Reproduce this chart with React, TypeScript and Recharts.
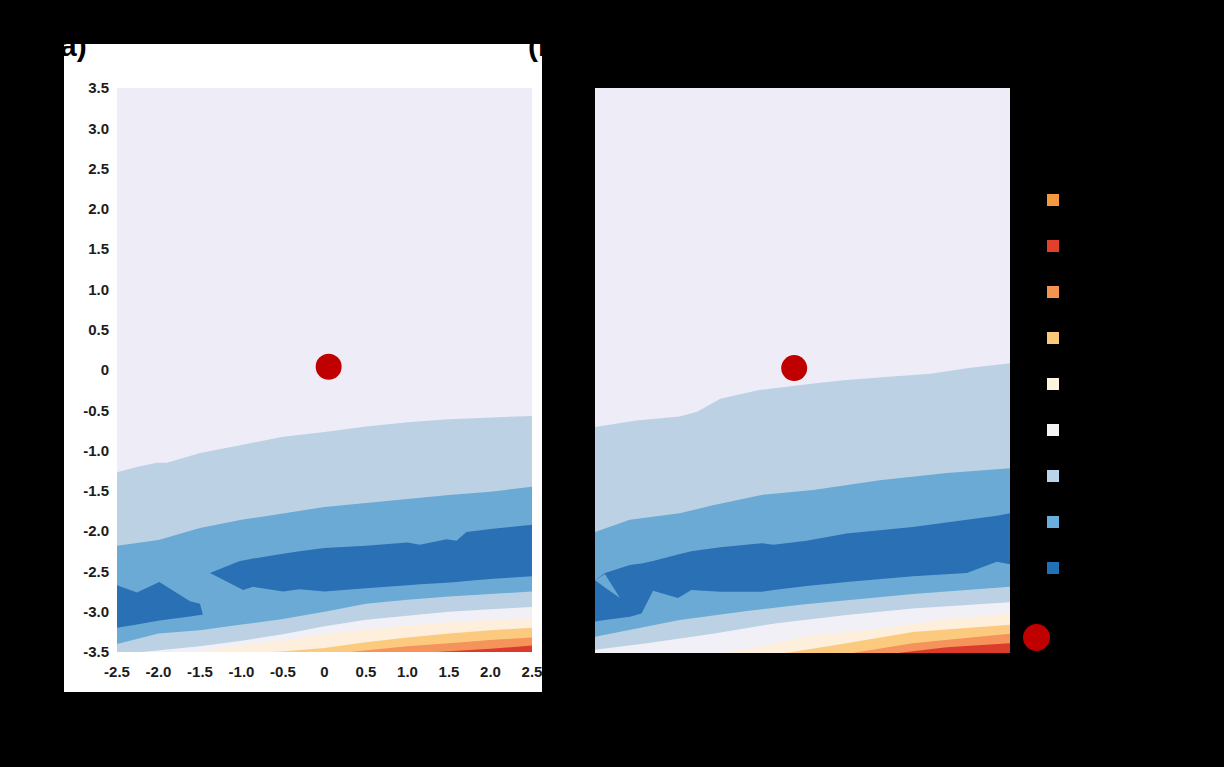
import React from "react";
import { ComposedChart, Area, Scatter, XAxis, YAxis } from "recharts";

type Pt = { x: number; y: number };
type Rng = { x: number; lo: number; hi: number };

const xTicks = [-2.5, -2.0, -1.5, -1.0, -0.5, 0, 0.5, 1.0, 1.5, 2.0, 2.5];
const yTicks = [3.5, 3.0, 2.5, 2.0, 1.5, 1.0, 0.5, 0, -0.5, -1.0, -1.5, -2.0, -2.5, -3.0, -3.5];

const colors = {
  lavender: "#eeedf7",
  light: "#bcd2e4",
  mid: "#6aaad5",
  dark: "#2a70b5",
  pale: "#f1f0f7",
  cream: "#fdefdc",
  lightOrange: "#fbca7f",
  orange: "#f4935a",
  red: "#dc3a2a",
};

const legendColors = ["#f5983f", "#e0402c", "#f4934f", "#fbc979", "#fdf3de", "#f4f4f6", "#b9d4ea", "#6aaedd", "#2171b5"];

const fullPlot: Pt[] = [{ x: -2.5, y: 3.5 }, { x: 2.5, y: 3.5 }];

// panel (a)
const aTop: Pt[] = [
  { x: -2.5, y: -1.27 }, { x: -2.25, y: -1.2 }, { x: -2.02, y: -1.15 }, { x: -1.9, y: -1.15 },
  { x: -1.66, y: -1.08 }, { x: -1.5, y: -1.03 }, { x: -1.0, y: -0.93 }, { x: -0.5, y: -0.83 },
  { x: 0, y: -0.77 }, { x: 0.5, y: -0.7 }, { x: 1.0, y: -0.65 }, { x: 1.5, y: -0.61 },
  { x: 2.0, y: -0.59 }, { x: 2.5, y: -0.57 },
];
const aMid: Pt[] = [
  { x: -2.5, y: -2.18 }, { x: -2.0, y: -2.11 }, { x: -1.5, y: -1.96 }, { x: -1.0, y: -1.86 },
  { x: -0.5, y: -1.78 }, { x: 0, y: -1.7 }, { x: 0.5, y: -1.65 }, { x: 1.0, y: -1.6 },
  { x: 1.5, y: -1.55 }, { x: 2.0, y: -1.51 }, { x: 2.5, y: -1.45 },
];
const aDarkLeft: Rng[] = [
  { x: -2.5, lo: -3.2, hi: -2.67 }, { x: -2.26, lo: -3.16, hi: -2.76 }, { x: -1.99, lo: -3.11, hi: -2.63 },
  { x: -1.62, lo: -3.06, hi: -2.87 }, { x: -1.5, lo: -3.04, hi: -2.9 }, { x: -1.47, lo: -3.04, hi: -3.02 },
];
const aDarkRight: Rng[] = [
  { x: -1.38, lo: -2.52, hi: -2.52 }, { x: -1.02, lo: -2.71, hi: -2.37 }, { x: -0.98, lo: -2.73, hi: -2.365 },
  { x: -0.86, lo: -2.69, hi: -2.34 }, { x: -0.5, lo: -2.75, hi: -2.28 }, { x: -0.3, lo: -2.72, hi: -2.25 },
  { x: 0, lo: -2.75, hi: -2.21 }, { x: 0.5, lo: -2.71, hi: -2.18 }, { x: 1.0, lo: -2.67, hi: -2.14 },
  { x: 1.15, lo: -2.66, hi: -2.17 }, { x: 1.47, lo: -2.64, hi: -2.1 }, { x: 1.59, lo: -2.63, hi: -2.12 },
  { x: 1.71, lo: -2.62, hi: -2.01 }, { x: 2.03, lo: -2.59, hi: -1.97 }, { x: 2.5, lo: -2.56, hi: -1.92 },
];
const aLowMid: Pt[] = [
  { x: -2.5, y: -3.4 }, { x: -2.0, y: -3.27 }, { x: -1.5, y: -3.23 }, { x: -1.0, y: -3.16 },
  { x: -0.5, y: -3.09 }, { x: 0, y: -3.0 }, { x: 0.5, y: -2.9 }, { x: 1.0, y: -2.85 },
  { x: 1.5, y: -2.81 }, { x: 2.0, y: -2.78 }, { x: 2.5, y: -2.75 },
];
const aLowLight: Pt[] = [
  { x: -2.5, y: -3.5 }, { x: -2.2, y: -3.5 }, { x: -1.5, y: -3.43 }, { x: -1.0, y: -3.36 },
  { x: -0.5, y: -3.28 }, { x: 0, y: -3.18 }, { x: 0.5, y: -3.1 }, { x: 1.0, y: -3.05 },
  { x: 1.5, y: -3.0 }, { x: 2.0, y: -2.97 }, { x: 2.5, y: -2.94 },
];
const aCream: Pt[] = [
  { x: -2.5, y: -3.5 }, { x: -1.6, y: -3.5 }, { x: -1.0, y: -3.42 }, { x: -0.5, y: -3.36 },
  { x: 0, y: -3.28 }, { x: 0.5, y: -3.22 }, { x: 1.0, y: -3.17 }, { x: 1.5, y: -3.13 },
  { x: 2.0, y: -3.1 }, { x: 2.5, y: -3.08 },
];
const aLightOrange: Pt[] = [
  { x: -2.5, y: -3.5 }, { x: -0.6, y: -3.5 }, { x: 0, y: -3.45 }, { x: 0.5, y: -3.38 },
  { x: 1.0, y: -3.32 }, { x: 1.5, y: -3.27 }, { x: 2.0, y: -3.23 }, { x: 2.5, y: -3.2 },
];
const aOrange: Pt[] = [
  { x: -2.5, y: -3.5 }, { x: 0.3, y: -3.5 }, { x: 1.0, y: -3.43 }, { x: 1.5, y: -3.39 },
  { x: 2.0, y: -3.35 }, { x: 2.5, y: -3.32 },
];
const aRed: Pt[] = [{ x: -2.5, y: -3.5 }, { x: 1.35, y: -3.5 }, { x: 2.0, y: -3.46 }, { x: 2.5, y: -3.42 }];
const aDot: Pt[] = [{ x: 0.05, y: 0.04 }];

// panel (b)
const bTop: Pt[] = [
  { x: -2.5, y: -0.7 }, { x: -2.0, y: -0.62 }, { x: -1.48, y: -0.57 }, { x: -1.27, y: -0.51 },
  { x: -0.99, y: -0.35 }, { x: -0.51, y: -0.24 }, { x: 0.13, y: -0.16 }, { x: 0.5, y: -0.12 },
  { x: 1.0, y: -0.08 }, { x: 1.54, y: -0.04 }, { x: 2.0, y: 0.03 }, { x: 2.5, y: 0.09 },
];
const bMid: Pt[] = [
  { x: -2.5, y: -2.0 }, { x: -2.08, y: -1.85 }, { x: -1.48, y: -1.77 }, { x: -1.08, y: -1.67 },
  { x: -0.48, y: -1.54 }, { x: 0.13, y: -1.48 }, { x: 0.93, y: -1.36 }, { x: 1.74, y: -1.27 },
  { x: 2.5, y: -1.21 },
];
const bDark: Rng[] = [
  { x: -2.5, lo: -3.11, hi: -2.6 }, { x: -2.38, lo: -3.09, hi: -2.51 }, { x: -2.08, lo: -3.05, hi: -2.41 },
  { x: -1.94, lo: -3.01, hi: -2.39 }, { x: -1.8, lo: -2.73, hi: -2.36 }, { x: -1.5, lo: -2.82, hi: -2.28 },
  { x: -1.34, lo: -2.72, hi: -2.24 }, { x: -0.99, lo: -2.74, hi: -2.19 }, { x: -0.49, lo: -2.74, hi: -2.14 },
  { x: -0.35, lo: -2.72, hi: -2.16 }, { x: 0.05, lo: -2.67, hi: -2.11 }, { x: 0.53, lo: -2.62, hi: -2.02 },
  { x: 1.33, lo: -2.55, hi: -1.94 }, { x: 1.98, lo: -2.51, hi: -1.85 }, { x: 2.34, lo: -2.37, hi: -1.8 },
  { x: 2.5, lo: -2.4, hi: -1.77 },
];
const bWedge: Rng[] = [
  { x: -2.5, lo: -2.6, hi: -2.6 }, { x: -2.38, lo: -2.69, hi: -2.52 }, { x: -2.2, lo: -2.82, hi: -2.82 },
];
const bLowMid: Pt[] = [
  { x: -2.5, y: -3.3 }, { x: -1.48, y: -3.09 }, { x: -0.67, y: -2.98 }, { x: 0, y: -2.9 },
  { x: 1.33, y: -2.77 }, { x: 2.5, y: -2.68 },
];
const bLowLight: Pt[] = [
  { x: -2.5, y: -3.46 }, { x: -1.87, y: -3.38 }, { x: -1.08, y: -3.26 }, { x: -0.31, y: -3.13 },
  { x: 0.53, y: -3.03 }, { x: 1.33, y: -2.95 }, { x: 2.5, y: -2.87 },
];
const bCream: Pt[] = [
  { x: -2.5, y: -3.5 }, { x: -1.0, y: -3.5 }, { x: -0.5, y: -3.42 }, { x: 0, y: -3.3 },
  { x: 1.0, y: -3.19 }, { x: 1.74, y: -3.08 }, { x: 2.5, y: -3.01 },
];
const bLightOrange: Pt[] = [
  { x: -2.5, y: -3.5 }, { x: -0.2, y: -3.5 }, { x: 0.53, y: -3.38 }, { x: 1.33, y: -3.24 }, { x: 2.5, y: -3.15 },
];
const bOrange: Pt[] = [
  { x: -2.5, y: -3.5 }, { x: 0.6, y: -3.5 }, { x: 1.33, y: -3.38 }, { x: 2.0, y: -3.31 }, { x: 2.5, y: -3.26 },
];
const bRed: Pt[] = [{ x: -2.5, y: -3.5 }, { x: 1.15, y: -3.5 }, { x: 1.74, y: -3.43 }, { x: 2.5, y: -3.38 }];
const bDot: Pt[] = [{ x: -0.1, y: 0.03 }];

type Layer = { data: Pt[] | Rng[]; color: string; range?: boolean };

const rangeKey = (d: Rng) => [d.lo, d.hi];
const fmt = (v: number) => (v === 0 ? "0" : v.toFixed(1));
const tickStyle = { fontSize: 15, fontWeight: 700, fill: "#1c1c1c", fontFamily: "Liberation Sans, Arial, sans-serif" };

const RedDot = (props: any) => <circle cx={props.cx} cy={props.cy} r={13} fill="#c00000" />;

const Panel = ({ layers, dot, axes, width, height, margin }: any) => (
  <ComposedChart width={width} height={height} margin={margin}>
    <XAxis
      type="number" dataKey="x" domain={[-2.5, 2.5]} ticks={xTicks} interval={0} tickFormatter={fmt}
      hide={!axes} axisLine={false} tickLine={false} tickMargin={8} height={30} tick={tickStyle} allowDataOverflow
    />
    <YAxis
      type="number" domain={[-3.5, 3.5]} ticks={yTicks} interval={0} tickFormatter={fmt}
      hide={!axes} axisLine={false} tickLine={false} width={45} tick={tickStyle} allowDataOverflow
    />
    {layers.map((l: Layer, i: number) => (
      <Area
        key={i}
        data={l.data as any[]}
        dataKey={l.range ? (rangeKey as any) : "y"}
        baseValue={l.range ? undefined : -3.5}
        type="linear"
        stroke="none"
        fill={l.color}
        fillOpacity={1}
        dot={false}
        activeDot={false}
        isAnimationActive={false}
      />
    ))}
    <Scatter data={dot} dataKey="y" shape={RedDot} isAnimationActive={false} />
  </ComposedChart>
);

const aLayers: Layer[] = [
  { data: fullPlot, color: colors.lavender },
  { data: aTop, color: colors.light },
  { data: aMid, color: colors.mid },
  { data: aDarkLeft, color: colors.dark, range: true },
  { data: aDarkRight, color: colors.dark, range: true },
  { data: aLowMid, color: colors.light },
  { data: aLowLight, color: colors.pale },
  { data: aCream, color: colors.cream },
  { data: aLightOrange, color: colors.lightOrange },
  { data: aOrange, color: colors.orange },
  { data: aRed, color: colors.red },
];

const bLayers: Layer[] = [
  { data: fullPlot, color: colors.lavender },
  { data: bTop, color: colors.light },
  { data: bMid, color: colors.mid },
  { data: bDark, color: colors.dark, range: true },
  { data: bWedge, color: colors.mid, range: true },
  { data: bLowMid, color: colors.light },
  { data: bLowLight, color: colors.pale },
  { data: bCream, color: colors.cream },
  { data: bLightOrange, color: colors.lightOrange },
  { data: bOrange, color: colors.orange },
  { data: bRed, color: colors.red },
];

const labelStyle: React.CSSProperties = {
  position: "absolute", fontSize: 30, fontWeight: 700, color: "#000",
  fontFamily: "Liberation Sans, Arial, sans-serif", lineHeight: "30px",
};

export default function App() {
  return (
    <div style={{ position: "relative", width: 1224, height: 767, background: "#000", overflow: "hidden" }}>
      <style>{`body{margin:0;background:#000}`}</style>
      <div style={{ position: "absolute", left: 64, top: 44, width: 478, height: 648, background: "#fff" }}>
        <Panel layers={aLayers} dot={aDot} axes width={478} height={648} margin={{ top: 44, right: 10, bottom: 10, left: 8 }} />
      </div>
      <div style={{ position: "absolute", left: 595, top: 88, width: 415, height: 565 }}>
        <Panel layers={bLayers} dot={bDot} axes={false} width={415} height={565} margin={{ top: 0, right: 0, bottom: 0, left: 0 }} />
      </div>
      <div style={{ ...labelStyle, left: 50, top: 31 }}>(a)</div>
      <div style={{ ...labelStyle, left: 528, top: 31 }}>(b)</div>
      {legendColors.map((c, i) => (
        <div key={c + i} style={{ position: "absolute", left: 1047, top: 194 + i * 46, width: 12, height: 12, background: c }} />
      ))}
      <div style={{ position: "absolute", left: 1023, top: 624, width: 27, height: 27, borderRadius: "50%", background: "#c00000" }} />
    </div>
  );
}
